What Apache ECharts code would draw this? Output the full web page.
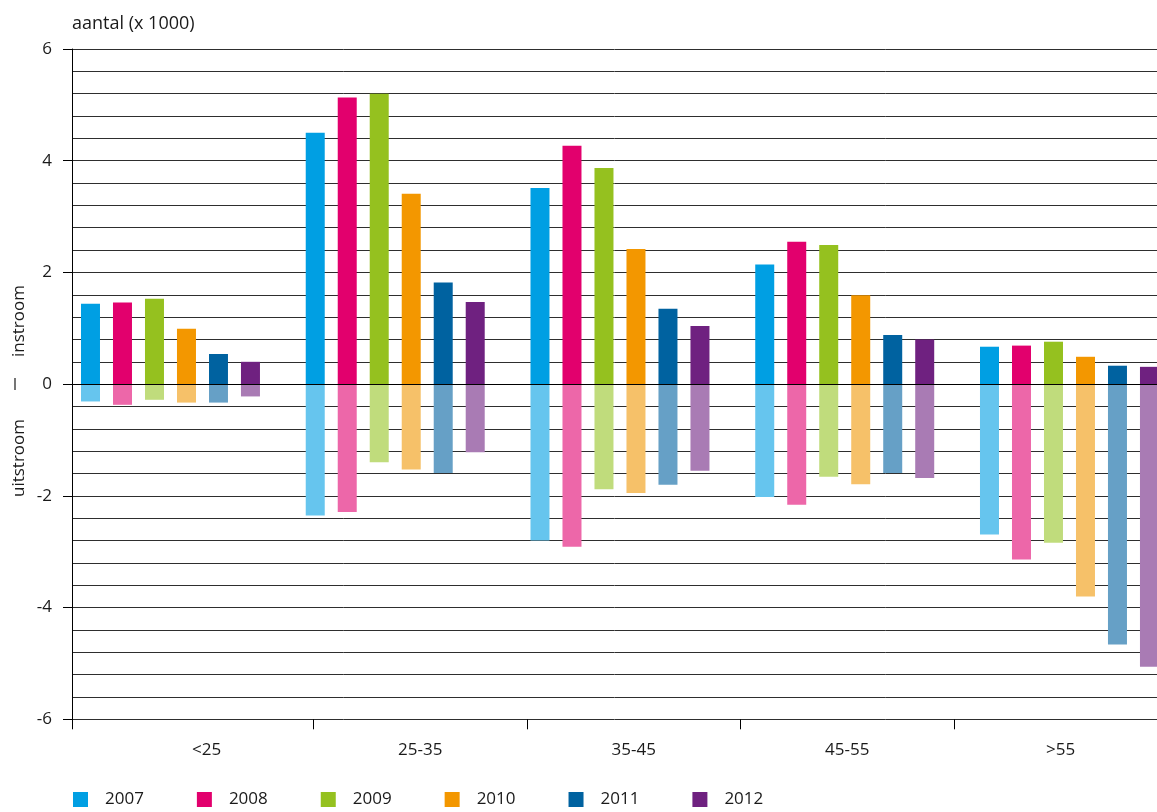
<!DOCTYPE html>
<html>
<head>
<meta charset="utf-8">
<title>instroom / uitstroom per leeftijdsgroep</title>
<script src="https://cdn.jsdelivr.net/npm/echarts@6.0.0/dist/echarts.min.js"></script>
<style>
  html, body { margin: 0; padding: 0; background: #fff; }
  #chart { width: 1157px; height: 812px; }
</style>
</head>
<body>
<div id="chart"></div>
<script>
const ageGroups = ['<25', '25-35', '35-45', '45-55', '>55']
const years = ['2007', '2008', '2009', '2010', '2011', '2012']
const yTickLabels = [-6, -4, -2, 0, 2, 4, 6]

// instroom (x 1000), per age group
const in2007 = [1.44, 4.50, 3.51, 2.14, 0.67]
const in2008 = [1.46, 5.13, 4.27, 2.55, 0.69]
const in2009 = [1.53, 5.20, 3.87, 2.49, 0.76]
const in2010 = [0.99, 3.41, 2.42, 1.59, 0.49]
const in2011 = [0.54, 1.82, 1.35, 0.88, 0.33]
const in2012 = [0.40, 1.47, 1.04, 0.80, 0.31]

// uitstroom (x 1000), per age group
const out2007 = [-0.31, -2.35, -2.80, -2.02, -2.69]
const out2008 = [-0.37, -2.29, -2.91, -2.16, -3.14]
const out2009 = [-0.28, -1.40, -1.88, -1.66, -2.84]
const out2010 = [-0.33, -1.53, -1.95, -1.79, -3.80]
const out2011 = [-0.33, -1.59, -1.80, -1.59, -4.66]
const out2012 = [-0.22, -1.22, -1.55, -1.68, -5.06]

const inflow = [in2007, in2008, in2009, in2010, in2011, in2012]
const outflow = [out2007, out2008, out2009, out2010, out2011, out2012]
const darkColors = ['#009fe3', '#e2006d', '#95c11f', '#f39700', '#0062a0', '#6f2180']
const lightColors = ['#66c5ee', '#ed67a9', '#c0dc7c', '#f6c169', '#66a0c6', '#a97bb4']

const FONT = '"Open Sans", sans-serif'
const TEXT = '#1a1a1a'

// frame grid (y axis + labels) and bar grid use slightly different spacing
const W = 1157
const frameLeft = 72
const labelStart = 99.95
const labelBand = 213.5
const xMin = (frameLeft - labelStart) / labelBand
const xMax = xMin + (W - frameLeft) / labelBand
const labelPos = ageGroups.map((g, i) => i + 0.5)
const tickPos = [xMin].concat(ageGroups.slice(1).map((g, i) => i + 1))

const series = []
years.forEach((year, i) => {
  series.push({
    name: year,
    type: 'bar',
    xAxisIndex: 2,
    yAxisIndex: 2,
    stack: 's' + year,
    barWidth: 19,
    barGap: '68.4%',
    itemStyle: { color: darkColors[i] },
    data: inflow[i]
  })
  series.push({
    name: year + ' uitstroom',
    type: 'bar',
    xAxisIndex: 2,
    yAxisIndex: 2,
    stack: 's' + year,
    barWidth: 19,
    barGap: '68.4%',
    itemStyle: { color: lightColors[i] },
    data: outflow[i]
  })
})

const chart = echarts.init(document.getElementById('chart'), null, { renderer: 'canvas' })

chart.setOption({
  animation: false,
  textStyle: { fontFamily: FONT },
  title: {
    text: 'aantal (x 1000)',
    left: 72,
    top: 15,
    padding: 0,
    textStyle: { fontFamily: FONT, fontSize: 18, fontWeight: 'normal', color: TEXT }
  },
  legend: {
    data: years,
    left: 73,
    top: 791,
    padding: 0,
    itemWidth: 15,
    itemHeight: 15,
    itemGap: 53,
    icon: 'rect',
    selectedMode: false,
    textStyle: { fontFamily: FONT, fontSize: 17, color: TEXT, padding: [0, 0, 0, 12] }
  },
  grid: [
    { left: frameLeft, right: 0, top: 49, bottom: 92.7, outerBoundsMode: 'none' },
    { left: 58.1, width: 1123.75, top: 49, bottom: 92.7, outerBoundsMode: 'none' }
  ],
  xAxis: [
    {
      type: 'value',
      gridIndex: 0,
      position: 'bottom',
      min: xMin,
      max: xMax,
      axisLine: { show: false, onZero: false },
      splitLine: { show: false },
      axisTick: { show: true, length: 10, customValues: tickPos, lineStyle: { color: '#000' } },
      axisLabel: {
        customValues: labelPos,
        margin: 22,
        fontFamily: FONT,
        fontSize: 17,
        color: TEXT,
        formatter: v => ageGroups[Math.floor(v)]
      }
    },
    {
      // zero line drawn on top of the bars
      type: 'value',
      gridIndex: 0,
      position: 'top',
      min: 0,
      max: 1,
      z: 10,
      axisLine: { show: true, onZero: true, lineStyle: { color: '#000', width: 1.2 } },
      axisTick: { show: false },
      axisLabel: { show: false },
      splitLine: { show: false }
    },
    {
      type: 'category',
      gridIndex: 1,
      data: ageGroups,
      show: false
    }
  ],
  yAxis: [
    {
      type: 'value',
      gridIndex: 0,
      position: 'left',
      min: -6,
      max: 6,
      axisLine: { show: true, onZero: false, lineStyle: { color: '#000' } },
      axisTick: { show: true, length: 9, customValues: yTickLabels, lineStyle: { color: '#000' } },
      axisLabel: {
        customValues: yTickLabels,
        margin: 20,
        fontFamily: FONT,
        fontSize: 17,
        color: TEXT,
        formatter: v => String(v)
      },
      splitLine: { show: false }
    },
    {
      // only carries the horizontal grid lines every 0.4
      type: 'value',
      gridIndex: 0,
      position: 'right',
      min: -6,
      max: 6,
      interval: 0.4,
      axisLine: { show: false, onZero: false },
      axisTick: { show: false },
      axisLabel: { show: false },
      splitLine: { show: true, lineStyle: { color: '#2e2e2e', width: 1 } }
    },
    {
      type: 'value',
      gridIndex: 1,
      min: -6,
      max: 6,
      show: false,
      splitLine: { show: false }
    }
  ],
  graphic: [
    {
      type: 'text',
      x: 19,
      y: 321,
      rotation: Math.PI / 2,
      style: { text: 'instroom', fontFamily: FONT, fontSize: 17, fill: TEXT, align: 'center', verticalAlign: 'middle' }
    },
    {
      type: 'line',
      shape: { x1: 15, y1: 378, x2: 15, y2: 390 },
      style: { stroke: TEXT, lineWidth: 1.2 }
    },
    {
      type: 'text',
      x: 19,
      y: 458,
      rotation: Math.PI / 2,
      style: { text: 'uitstroom', fontFamily: FONT, fontSize: 17, fill: TEXT, align: 'center', verticalAlign: 'middle' }
    }
  ],
  series: series
})
</script>
</body>
</html>
